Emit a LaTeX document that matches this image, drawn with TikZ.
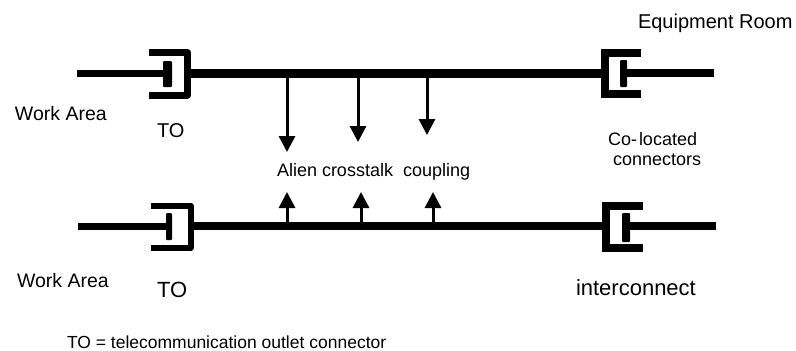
\documentclass[tikz,border=0pt]{standalone}
\usepackage{fontspec}
\setmainfont{Liberation Sans}
\usetikzlibrary{arrows.meta}
\tikzset{
  lbl/.style={anchor=base west,inner sep=0pt,outer sep=0pt,text=black},
  cable/.style={line width=#1,line cap=butt},
  jack/.style={line width=#1,line join=round},
  jackr/.style={line width=#1,line join=miter},
  plug/.style={fill=black,rounded corners=1pt},
  xtalk/.style={line width=3pt,-{Triangle[width=16pt,length=16pt]}},
}
\begin{document}
\begin{tikzpicture}[x=1pt,y=-1pt]
\useasboundingbox (0,0) rectangle (796,351);
% ---------- top channel ----------
\coordinate (tlA) at (77,73);
\coordinate (tlB) at (165,73);
\coordinate (tmA) at (191,73);
\coordinate (tmB) at (604,73);
\coordinate (trA) at (627,73);
\coordinate (trB) at (714,73);
\draw[cable=7pt] (tlA) -- (tlB);
\path[plug] (163,61) rectangle (172,87);
\draw[jack=7pt] (149,52.5) -- (187.5,52.5) -- (187.5,95) -- (149,95);
\draw[cable=9pt] (tmA) -- (tmB);
\draw[jackr=8pt] (641,53) -- (604.5,53) -- (604.5,94) -- (641,94);
\path[plug] (620,60) rectangle (627,87);
\draw[cable=8pt] (trA) -- (trB);
% ---------- bottom channel ----------
\coordinate (blA) at (78,226);
\coordinate (blB) at (168,226);
\coordinate (bmA) at (194,226);
\coordinate (bmB) at (605,226);
\coordinate (brA) at (630,226);
\coordinate (brB) at (716,226);
\draw[cable=7pt] (blA) -- (blB);
\path[plug] (166,213) rectangle (172,240);
\draw[jack=6pt] (151,205.5) -- (190.5,205.5) -- (190.5,248) -- (151,248);
\draw[cable=8pt] (bmA) -- (bmB);
\draw[jackr=8pt] (643,206) -- (605.5,206) -- (605.5,247.5) -- (643,247.5);
\path[plug] (622,213) rectangle (630,242);
\draw[cable=8pt] (brA) -- (brB);
% ---------- crosstalk arrows ----------
\coordinate (d1s) at (287,77);  \coordinate (d1e) at (287,152);
\coordinate (d2s) at (358,77);  \coordinate (d2e) at (358,142);
\coordinate (d3s) at (427,77);  \coordinate (d3e) at (427,135);
\coordinate (u1s) at (287,222); \coordinate (u1e) at (287,192);
\coordinate (u2s) at (361,222); \coordinate (u2e) at (361,192);
\coordinate (u3s) at (433,222); \coordinate (u3e) at (433,192);
\draw[xtalk] (d1s) -- (d1e);
\draw[xtalk] (d2s) -- (d2e);
\draw[xtalk] (d3s) -- (d3e);
\draw[xtalk] (u1s) -- (u1e);
\draw[xtalk] (u2s) -- (u2e);
\draw[xtalk] (u3s) -- (u3e);
% ---------- labels ----------
\node[lbl,font=\fontsize{20}{22}\selectfont] (eqr) at (638,28) {Equipment Room};
\node[lbl,font=\fontsize{19.5}{22}\selectfont] (wa1) at (15,120) {Work Area};
\node[lbl,font=\fontsize{20}{22}\selectfont] (to1) at (157,137) {TO};
\node[lbl,font=\fontsize{18}{20}\selectfont] (act) at (277,176) {Alien crosstalk\ \ coupling};
\node[lbl,font=\fontsize{18}{20}\selectfont] (col) at (608,145) {Co-\kern2pt located};
\node[lbl,font=\fontsize{18}{20}\selectfont] (con) at (613,165) {connectors};
\node[lbl,font=\fontsize{19.5}{22}\selectfont] (wa2) at (17,287) {Work Area};
\node[lbl,font=\fontsize{22}{24}\selectfont] (to2) at (157,297) {TO};
\node[lbl,font=\fontsize{22}{24}\selectfont] (icn) at (576,295) {interconnect};
\node[lbl,font=\fontsize{17.5}{20}\selectfont] (leg) at (67,348) {TO = telecommunication outlet connector};
\end{tikzpicture}
\end{document}
